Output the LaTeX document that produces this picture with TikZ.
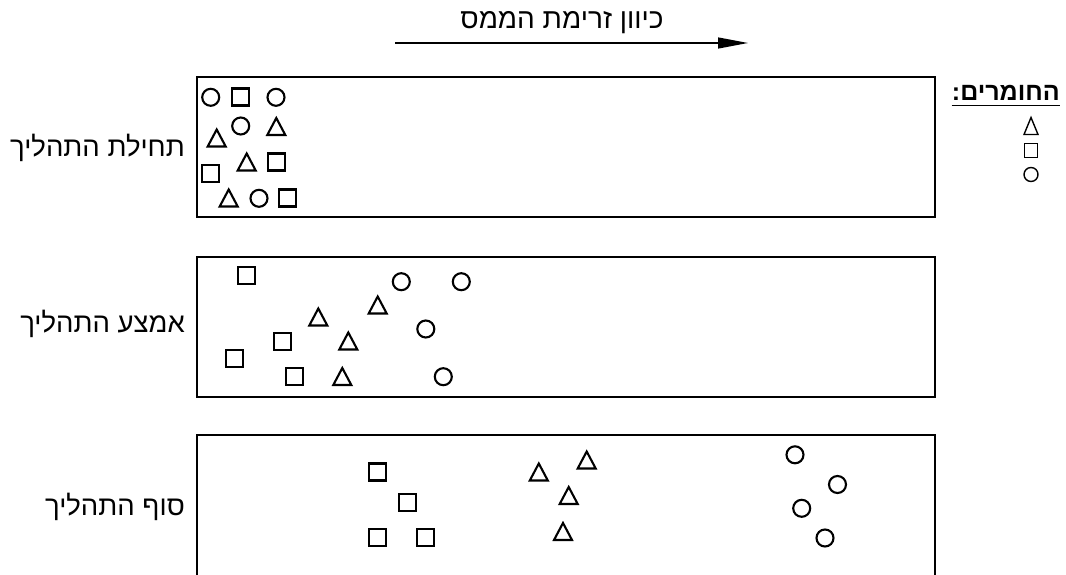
\documentclass[tikz,border=0pt]{standalone}
\usepackage{fontspec}
\setmainfont{Liberation Sans}
\newfontfamily\hebfont[Script=Hebrew]{Liberation Sans}
\TeXXeTstate=1
\usetikzlibrary{arrows.meta}
\begin{document}
\begin{tikzpicture}[x=1pt,y=-1pt,
  box/.style={draw,line width=2pt,anchor=north west,inner sep=0pt,minimum width=738pt},
  shp/.style={draw,line width=2.1pt,inner sep=0pt},
  circ/.style={shp,circle,minimum size=17pt},
  sqr/.style={shp,rectangle,minimum size=17pt},
  tri/.pic={\draw[line width=2.1pt] (0,-9) -- (9,8) -- (-9,8) -- cycle;},
  lcirc/.style={draw,line width=1.4pt,circle,inner sep=0pt,minimum size=14pt},
  lsqr/.style={draw,line width=1.4pt,rectangle,inner sep=0pt,minimum size=13.5pt},
  ltri/.pic={\draw[line width=1.4pt] (0,-8.5) -- (7,8.5) -- (-7,8.5) -- cycle;},
  lbl/.style={font=\hebfont\fontsize{27.5}{30}\selectfont,inner sep=0pt,anchor=base east},
]
\useasboundingbox (0,0) rectangle (1066,575);
\clip (0,0) rectangle (1066,575);
% arrow and title
\node[font=\hebfont\fontsize{28}{30}\selectfont,inner sep=0pt,anchor=base] (title) at (562,29) {\beginR כיוון זרימת הממס\endR};
\coordinate (a1) at (395,43);
\coordinate (a2) at (748,43);
\draw[line width=1.3pt,-{Triangle[length=30pt,width=11pt]}] (a1) -- (a2);
% boxes
\node[box,minimum height=140pt] (r1) at (196,76) {};
\node[box,minimum height=140pt] (r2) at (196,256) {};
\node[box,minimum height=160pt] (r3) at (196,434) {};
% labels
\node[lbl] (l1) at (185,157) {\beginR תחילת התהליך\endR};
\node[lbl] (l2) at (185,332) {\beginR אמצע התהליך\endR};
\node[lbl] (l3) at (185,515) {\beginR סוף התהליך\endR};
% legend
\node[font=\hebfont\bfseries\fontsize{25}{28}\selectfont,inner sep=0pt,anchor=base east] (leg) at (1060,101) {\beginR החומרים:\endR};
\draw[line width=1.3pt] (leg.base west) ++(0,4.5) -- ([yshift=-4.5pt]leg.base east);
\pic (lt) at (1031,126) {ltri};
\node[lsqr] (ls) at (1031,150.5) {};
\node[lcirc] (lc) at (1031,174.5) {};
% box 1
\node[circ] (c11) at (210.7,97.3) {};
\node[sqr] (s11) at (240.3,97) {};
\node[circ] (c12) at (276,97.3) {};
\pic (t11) at (216.7,138.5) {tri};
\node[circ] (c13) at (240.7,126) {};
\pic (t12) at (276.3,127) {tri};
\pic (t13) at (246.7,162.5) {tri};
\node[sqr] (s12) at (276.7,162) {};
\node[sqr] (s13) at (210.7,173.7) {};
\pic (t14) at (228.7,198.5) {tri};
\node[circ] (c14) at (259,198.3) {};
\node[sqr] (s14) at (287.7,198) {};
% box 2
\node[sqr] (s21) at (246.3,275.3) {};
\node[circ] (c21) at (401.3,281.7) {};
\node[circ] (c22) at (461.3,281.7) {};
\pic (t21) at (377.7,305.5) {tri};
\pic (t22) at (318.3,317.5) {tri};
\node[circ] (c23) at (425.8,329) {};
\node[sqr] (s22) at (282.5,341.2) {};
\pic (t23) at (348.3,341.5) {tri};
\node[sqr] (s23) at (234.7,358.8) {};
\node[sqr] (s24) at (294.2,376.3) {};
\pic (t24) at (342.3,377) {tri};
\node[circ] (c24) at (443.3,376.7) {};
% box 3
\node[sqr] (s31) at (377.5,472) {};
\node[sqr] (s32) at (407.7,502.2) {};
\node[sqr] (s33) at (377.5,537.8) {};
\node[sqr] (s34) at (425.8,537.8) {};
\pic (t31) at (538.8,472.5) {tri};
\pic (t32) at (586.7,460.5) {tri};
\pic (t33) at (568.7,496) {tri};
\pic (t34) at (563,532) {tri};
\node[circ] (c31) at (795,454.8) {};
\node[circ] (c32) at (837.5,484.5) {};
\node[circ] (c33) at (801.7,508.3) {};
\node[circ] (c34) at (825,538) {};
\end{tikzpicture}
\end{document}
